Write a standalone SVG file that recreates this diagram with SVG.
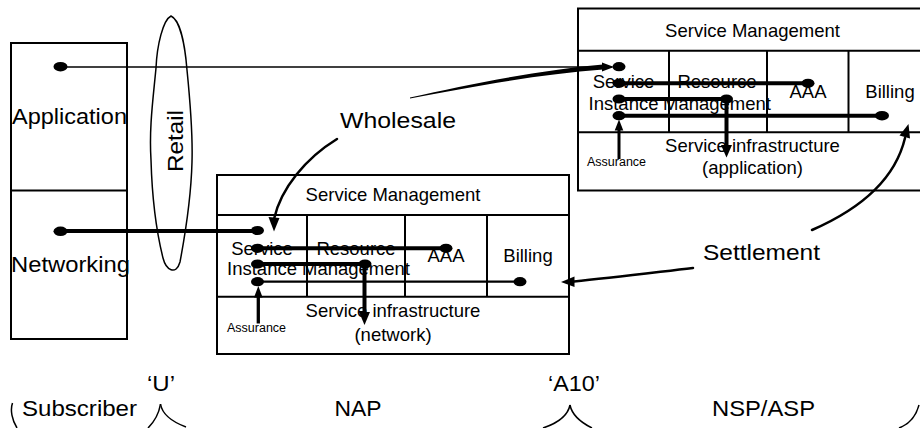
<svg xmlns="http://www.w3.org/2000/svg" width="920" height="428" viewBox="0 0 920 428">
<style>
.box{fill:none;stroke:#000;stroke-width:2}
.t{font-family:"Liberation Sans",Arial,sans-serif;fill:#000}
.m{font-size:18.5px}
.b{font-size:22px}
.s{font-size:12.5px}
.mid{text-anchor:middle}
.thick{stroke:#000;stroke-width:4;fill:none}
.thin{stroke:#000;stroke-width:1.6;fill:none}
.arm{stroke:#000;stroke-width:2.5;fill:none;stroke-linecap:round}
.brace{stroke:#000;stroke-width:1.5;fill:none}
.dot{fill:#000}
.ah{fill:#000}
</style>

<g id="left-column">
<rect class="box" x="11" y="43" width="116" height="296"/>
<line class="box" x1="11" y1="190.5" x2="127" y2="190.5"/>
<text class="t b" x="12" y="124" textLength="115" lengthAdjust="spacingAndGlyphs">Application</text>
<text class="t b" x="11" y="271.5" textLength="119" lengthAdjust="spacingAndGlyphs">Networking</text>
</g>

<g id="retail">
<path class="brace" d="M171 16 C163 20,157 45,156 68 C153 100,149 128,151 160 C152 195,156 230,163 258 C166 270,176 276,180 262 C186 230,191 200,192 162 C193 130,190 100,187 70 C185 45,180 20,171 16 Z"/>
<text class="t b mid" transform="translate(183,141) rotate(-90)" x="0" y="0" textLength="62" lengthAdjust="spacingAndGlyphs">Retail</text>
</g>

<g id="nap-box">
<rect class="box" x="217" y="175" width="352" height="179"/>
<line class="box" x1="217" y1="215" x2="569" y2="215"/>
<line class="box" x1="217" y1="296.7" x2="569" y2="296.7"/>
<line class="box" x1="307" y1="215" x2="307" y2="296.7"/>
<line class="box" x1="405" y1="215" x2="405" y2="296.7"/>
<line class="box" x1="487" y1="215" x2="487" y2="296.7"/>
<text class="t m mid" x="393" y="201">Service Management</text>
<text class="t m mid" x="262" y="254.5">Service</text>
<text class="t m mid" x="262" y="274.5">Instance</text>
<text class="t m mid" x="356" y="254.5">Resource</text>
<text class="t m mid" x="356" y="274.5">Management</text>
<text class="t m mid" x="446" y="261.5">AAA</text>
<text class="t m mid" x="528" y="262">Billing</text>
<text class="t m mid" x="393" y="316.5">Service infrastructure</text>
<text class="t m mid" x="393" y="341">(network)</text>
<text class="t s" x="227" y="331.5">Assurance</text>
</g>

<g id="nsp-box">
<rect class="box" x="578" y="8.5" width="360" height="182"/>
<line class="box" x1="578" y1="50.7" x2="938" y2="50.7"/>
<line class="box" x1="578" y1="132.3" x2="938" y2="132.3"/>
<line class="box" x1="669" y1="50.7" x2="669" y2="132.3"/>
<line class="box" x1="767" y1="50.7" x2="767" y2="132.3"/>
<line class="box" x1="848.5" y1="50.7" x2="848.5" y2="132.3"/>
<text class="t m mid" x="752.5" y="36.5">Service Management</text>
<text class="t m mid" x="623.5" y="87.5">Service</text>
<text class="t m mid" x="623.5" y="110">Instance</text>
<text class="t m mid" x="717" y="87.5">Resource</text>
<text class="t m mid" x="717" y="110">Management</text>
<text class="t m mid" x="808" y="98">AAA</text>
<text class="t m mid" x="890" y="98">Billing</text>
<text class="t m mid" x="752.5" y="152">Service infrastructure</text>
<text class="t m mid" x="752.5" y="174">(application)</text>
<text class="t s" x="587" y="166">Assurance</text>
</g>

<g id="labels">
<text class="t b" x="340" y="128" textLength="116" lengthAdjust="spacingAndGlyphs">Wholesale</text>
<text class="t b" x="703" y="260" textLength="117" lengthAdjust="spacingAndGlyphs">Settlement</text>
<text class="t b" x="22" y="416" textLength="115" lengthAdjust="spacingAndGlyphs">Subscriber</text>
<text class="t b" x="334.5" y="416" textLength="47" lengthAdjust="spacingAndGlyphs">NAP</text>
<text class="t b" x="712" y="416" textLength="103" lengthAdjust="spacingAndGlyphs">NSP/ASP</text>
<text class="t b" x="147" y="391" textLength="28" lengthAdjust="spacingAndGlyphs">‘U’</text>
<text class="t b" x="548" y="391" textLength="52" lengthAdjust="spacingAndGlyphs">‘A10’</text>
</g>

<g id="braces">
<path class="brace" d="M12.5 403 C10 410,12 420,17 428"/>
<path class="brace" d="M160.5 404 C159 413,155 421,148 428"/>
<path class="brace" d="M160.5 404 C162 413,170 421,186 427"/>
<path class="brace" d="M570 405 C568 415,558 423,543 428"/>
<path class="brace" d="M570 405 C572 415,580 422,592 428"/>
<path class="brace" d="M899 428 C910 424,916 416,919 405"/>
</g>

<g id="connectors">
<!-- Application to NSP service instance -->
<line class="thin" x1="60" y1="67" x2="612" y2="67"/>
<ellipse class="dot" cx="60.5" cy="66.7" rx="7" ry="4.8"/>
<ellipse class="dot" cx="619" cy="66.7" rx="6.5" ry="4.6"/>
<!-- Networking to NAP service instance -->
<line class="thick" x1="60" y1="231" x2="258" y2="231"/>
<ellipse class="dot" cx="60.5" cy="231.3" rx="7" ry="4.8"/>
<ellipse class="dot" cx="257.5" cy="230.5" rx="6.5" ry="4.6"/>

<!-- NAP internal -->
<line class="thick" x1="258" y1="248.3" x2="446" y2="248.3"/>
<ellipse class="dot" cx="257.5" cy="248.3" rx="6.5" ry="4.6"/>
<ellipse class="dot" cx="446" cy="248.3" rx="6.5" ry="4.6"/>
<line class="thick" x1="258" y1="264" x2="365" y2="264"/>
<ellipse class="dot" cx="257.5" cy="264" rx="6.5" ry="4.6"/>
<ellipse class="dot" cx="365" cy="264" rx="6.5" ry="4.6"/>
<line class="thick" x1="364.5" y1="264" x2="364.5" y2="314"/>
<polygon class="ah" points="359,312 370,312 364.5,325"/>
<line class="thin" x1="258" y1="281.7" x2="520" y2="281.7" style="stroke-width:2.2"/>
<ellipse class="dot" cx="257.5" cy="281.7" rx="6.5" ry="4.6"/>
<ellipse class="dot" cx="520" cy="281.7" rx="6.5" ry="4.6"/>
<line class="thick" x1="258.3" y1="323.5" x2="258.3" y2="295" style="stroke-width:3.3"/>
<polygon class="ah" points="254,297.5 262.6,297.5 258.3,286"/>

<!-- NSP internal -->
<line class="thick" x1="619" y1="83.3" x2="808" y2="83.3"/>
<ellipse class="dot" cx="619" cy="83.3" rx="6.5" ry="4.6"/>
<ellipse class="dot" cx="808" cy="83.3" rx="6.5" ry="4.6"/>
<line class="thick" x1="619" y1="99" x2="727" y2="99"/>
<ellipse class="dot" cx="619" cy="99" rx="6.5" ry="4.6"/>
<ellipse class="dot" cx="726.5" cy="99" rx="6.5" ry="4.6"/>
<line class="thick" x1="726.5" y1="99" x2="726.5" y2="147"/>
<polygon class="ah" points="721,145 732,145 726.5,157.5"/>
<line class="thick" x1="619" y1="115.7" x2="882" y2="115.7"/>
<ellipse class="dot" cx="619" cy="115.7" rx="6.5" ry="4.6"/>
<ellipse class="dot" cx="882" cy="115.7" rx="7" ry="4.8"/>
<line class="thick" x1="619" y1="159" x2="619" y2="128" style="stroke-width:3"/>
<polygon class="ah" points="614.7,130.5 623.3,130.5 619,119.5"/>

<!-- Wholesale -->
<path class="dot" d="M410 97.5 C470 84,540 70,603 64.5 L603 69.5 C540 74,470 87,410 98.5 Z"/>
<polygon class="ah" points="602,62.5 614,67 602,71.5"/>
<path class="arm" d="M337 139 C306 158,281 188,274 219"/>
<polygon class="ah" points="268.5,217 279.5,218 274,231.5"/>

<!-- Settlement -->
<path class="arm" d="M812 230 C858 210,895 180,905 138"/>
<polygon class="ah" points="899.5,135.5 910,138.5 908.5,124"/>
<path class="arm" d="M693 268 C650 273,610 278,574 281.5"/>
<polygon class="ah" points="574.5,276.5 574.5,287 561,282"/>
</g>
</svg>
